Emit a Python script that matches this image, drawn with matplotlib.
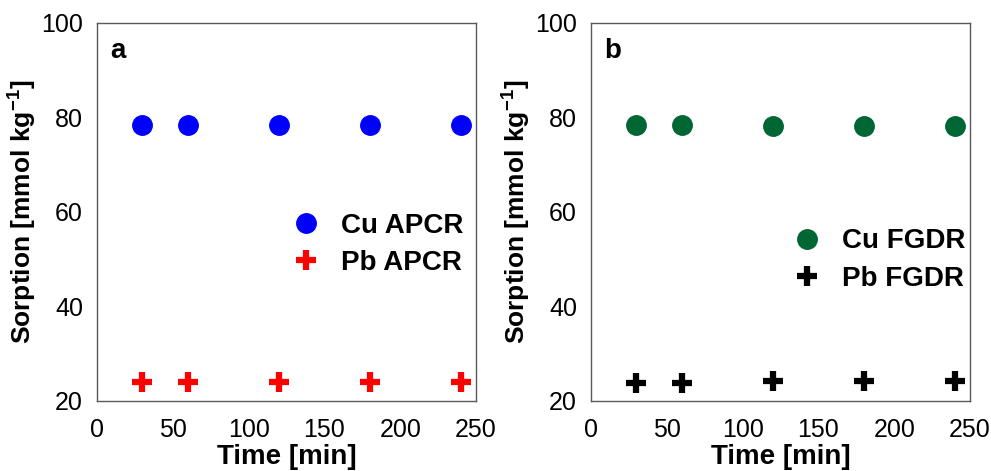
import matplotlib
matplotlib.use("Agg")
import matplotlib.pyplot as plt

plt.rcParams['font.family'] = ['Liberation Sans', 'DejaVu Sans']

# sorption data
time_min = [30, 60, 120, 180, 240]
cu_apcr = [78.4, 78.4, 78.4, 78.4, 78.4]
pb_apcr = [24.1, 24.1, 24.1, 24.1, 24.1]
cu_fgdr = [78.4, 78.4, 78.3, 78.3, 78.3]
pb_fgdr = [23.9, 23.8, 24.3, 24.3, 24.3]

panels = [
    ('a', cu_apcr, pb_apcr, 'Cu APCR', 'Pb APCR', '#0000ff', '#ff0000', (0.966, 0.414)),
    ('b', cu_fgdr, pb_fgdr, 'Cu FGDR', 'Pb FGDR', '#006633', '#000000', (0.987, 0.373)),
]
axes_left = [97, 591]

fig = plt.figure(figsize=(9.91, 4.71), dpi=100)
W, H = 991, 471

for (letter, cu, pb, cu_lab, pb_lab, c1, c2, legpos), left in zip(panels, axes_left):
    ax = fig.add_axes([left / W, (H - 401) / H, 379 / W, 378 / H])
    ax.plot(time_min, cu, 'o', ms=14, color=c1, label=cu_lab)
    ax.plot(time_min, pb, '+', ms=14, mew=4.5, color=c2, label=pb_lab)
    ax.set_xlim(0, 250)
    ax.set_ylim(20, 100)
    ax.set_xticks([0, 50, 100, 150, 200, 250])
    ax.set_yticks([20, 40, 60, 80, 100])
    ax.tick_params(length=0, labelsize=18)
    ax.tick_params(axis='x', pad=12)
    ax.tick_params(axis='y', pad=10)
    for s in ax.spines.values():
        s.set_color('#595959')
        s.set_linewidth(1.0)
    ax.set_xlabel('Time [min]', fontsize=20, fontweight='bold', labelpad=2)
    ax.set_ylabel('Sorption [mmol kg$^{\\mathregular{-1}}$]', fontsize=19,
                  fontweight='bold', labelpad=2)
    ax.text(0.035, 0.96, letter, transform=ax.transAxes, fontsize=20,
            fontweight='bold', va='top', ha='left')
    ax.legend(loc='center right', bbox_to_anchor=legpos, frameon=False,
              prop={'size': 20, 'weight': 'bold'}, handlelength=1.0,
              handletextpad=0.75, labelspacing=0.4, borderaxespad=0,
              borderpad=0)

fig.savefig('out.png', dpi=100)
